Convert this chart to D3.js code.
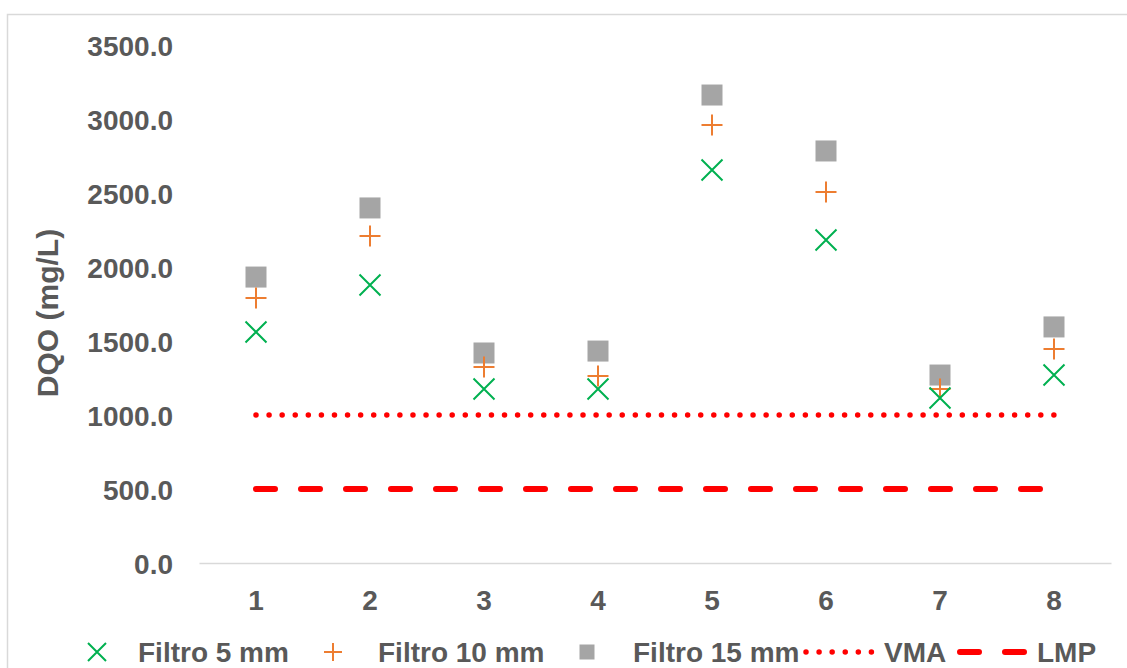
<!DOCTYPE html>
<html>
<head>
<meta charset="utf-8">
<script src="https://cdn.jsdelivr.net/npm/d3@7"></script>
<style>
  html, body { margin: 0; padding: 0; background: #fff; }
  svg { display: block; font-family: Arial, "Liberation Sans", sans-serif; }
</style>
</head>
<body>
<svg id="chart" width="1127" height="668"></svg>
<script>
const categories = [1, 2, 3, 4, 5, 6, 7, 8];
const filtro5 = [1561, 1878, 1176, 1176, 2655, 2182, 1115, 1270];
const filtro10 = [1791, 2209, 1324, 1264, 2959, 2507, 1176, 1446];
const filtro15 = [1932, 2399, 1419, 1432, 3162, 2784, 1270, 1595];
const vma = [1000, 1000, 1000, 1000, 1000, 1000, 1000, 1000];
const lmp = [500, 500, 500, 500, 500, 500, 500, 500];
const yTicks = [0, 500, 1000, 1500, 2000, 2500, 3000, 3500];
const yTitle = "DQO (mg/L)";
const legendLabels = ["Filtro 5 mm", "Filtro 10 mm", "Filtro 15 mm", "VMA", "LMP"];

const svg = d3.select("#chart");
const textColor = "#595959";
const c5 = "#00b050", c10 = "#ed7d31", c15 = "#a5a5a5", cRed = "#ff0000";

// outer chart border
svg.append("rect").attr("x", 7.5).attr("y", 14.5).attr("width", 1140).attr("height", 680)
  .attr("fill", "none").attr("stroke", "#d9d9d9").attr("stroke-width", 1.5);

const plot = { left: 199, right: 1111, top: 45, bottom: 563 };
const x = d3.scaleBand().domain(categories).range([plot.left, plot.right]);
const cx = d => x(d) + x.bandwidth() / 2;
const y = d3.scaleLinear().domain([0, 3500]).range([plot.bottom, plot.top]);

// y axis labels
const yAxis = d3.axisLeft(y).tickValues(yTicks).tickFormat(d3.format(".1f")).tickSize(0).tickPadding(0);
const gy = svg.append("g").attr("transform", `translate(173,0)`).call(yAxis);
gy.select(".domain").remove();
gy.selectAll("text").attr("fill", textColor).attr("font-size", 28).attr("font-weight", "bold")
  .attr("font-family", "Arial, 'Liberation Sans', sans-serif").attr("dy", "0.36em");

// x axis
const xAxis = d3.axisBottom(x).tickSize(0).tickPadding(0);
const gx = svg.append("g").attr("transform", `translate(0,${plot.bottom})`).call(xAxis);
gx.select(".domain").attr("stroke", "#d9d9d9").attr("stroke-width", 1.5);
gx.selectAll("text").attr("fill", textColor).attr("font-size", 28).attr("font-weight", "bold")
  .attr("font-family", "Arial, 'Liberation Sans', sans-serif").attr("dy", "0").attr("y", 47);

// y title
svg.append("text").attr("transform", `translate(58,${(plot.top + plot.bottom) / 2 + 9}) rotate(-90)`)
  .attr("text-anchor", "middle").attr("fill", textColor).attr("font-size", 30).attr("font-weight", "bold")
  .text(yTitle);

// reference lines
const line = d3.line().x((d, i) => cx(categories[i])).y(d => y(d));
svg.append("path").datum(vma).attr("d", line).attr("fill", "none").attr("stroke", cRed)
  .attr("stroke-width", 5.5).attr("stroke-linecap", "round").attr("stroke-dasharray", "0 13.08");
svg.append("path").datum(lmp).attr("d", line).attr("fill", "none").attr("stroke", cRed)
  .attr("stroke-width", 6).attr("stroke-linecap", "round").attr("stroke-dasharray", "19 26");

// markers
function drawX(g, px, py, s) {
  g.append("path").attr("d", `M${px - s},${py - s}L${px + s},${py + s}M${px - s},${py + s}L${px + s},${py - s}`)
    .attr("stroke", c5).attr("stroke-width", 2).attr("fill", "none");
}
function drawPlus(g, px, py, s) {
  g.append("path").attr("d", `M${px - s},${py}L${px + s},${py}M${px},${py - s}L${px},${py + s}`)
    .attr("stroke", c10).attr("stroke-width", 2).attr("fill", "none");
}
function drawSquare(g, px, py, s) {
  g.append("rect").attr("x", px - s).attr("y", py - s).attr("width", 2 * s).attr("height", 2 * s)
    .attr("fill", c15);
}
const gm = svg.append("g");
categories.forEach((c, i) => drawSquare(gm, cx(c), y(filtro15[i]), 10.5));
categories.forEach((c, i) => drawPlus(gm, cx(c), y(filtro10[i]), 10.5));
categories.forEach((c, i) => drawX(gm, cx(c), y(filtro5[i]), 10.5));

// legend
const ly = 652;
const lg = svg.append("g");
drawX(lg, 97, ly, 9);
drawPlus(lg, 333, ly, 9);
drawSquare(lg, 587, ly, 7.5);
lg.append("line").attr("x1", 806).attr("x2", 877).attr("y1", ly).attr("y2", ly).attr("stroke", cRed)
  .attr("stroke-width", 5.5).attr("stroke-linecap", "round").attr("stroke-dasharray", "0 13.08");
lg.append("line").attr("x1", 960).attr("x2", 1030).attr("y1", ly).attr("y2", ly).attr("stroke", cRed)
  .attr("stroke-width", 6).attr("stroke-linecap", "round").attr("stroke-dasharray", "19 26");
const textX = [138, 378, 633, 884, 1037];
legendLabels.forEach((t, i) => {
  lg.append("text").attr("x", textX[i]).attr("y", ly).attr("dy", "0.36em").attr("fill", textColor)
    .attr("font-size", 28).attr("font-weight", "bold").text(t);
});
</script>
</body>
</html>
